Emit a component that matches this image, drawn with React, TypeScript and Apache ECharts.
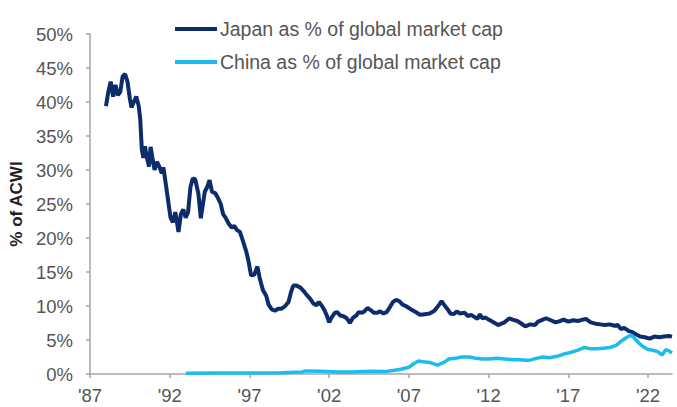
import React, { useEffect, useRef } from "react";
import * as echarts from "echarts";

const BASE_YEAR = 1987;
const xTickLabels = ["'87", "'92", "'97", "'02", "'07", "'12", "'17", "'22"];
const yTickValues = [0, 5, 10, 15, 20, 25, 30, 35, 40, 45, 50];

const japanYears = [
  1988.0, 1988.15, 1988.3, 1988.45, 1988.6, 1988.75, 1988.9, 1989.05, 1989.2, 1989.35,
  1989.5, 1989.6, 1989.75, 1989.9, 1990.05, 1990.15, 1990.25, 1990.35, 1990.45, 1990.55,
  1990.7, 1990.8, 1990.9, 1991.05, 1991.2, 1991.35, 1991.5, 1991.6, 1991.75, 1991.9,
  1992.05, 1992.2, 1992.35, 1992.55, 1992.7, 1992.85, 1993.0, 1993.15, 1993.3, 1993.45,
  1993.6, 1993.8, 1993.95, 1994.05, 1994.2, 1994.35, 1994.5, 1994.65, 1994.85, 1995.0,
  1995.2, 1995.35, 1995.5, 1995.7, 1995.9, 1996.05, 1996.2, 1996.4, 1996.6, 1996.8,
  1996.95, 1997.1, 1997.3, 1997.5, 1997.65, 1997.85, 1998.05, 1998.2, 1998.4, 1998.6,
  1998.8, 1999.0, 1999.2, 1999.45, 1999.6, 1999.75, 1999.95, 2000.2, 2000.4, 2000.6,
  2000.8, 2001.0, 2001.2, 2001.35, 2001.55, 2001.7, 2001.85, 2002.0, 2002.15, 2002.35,
  2002.5, 2002.7, 2002.9, 2003.1, 2003.3, 2003.5, 2003.7, 2003.85, 2004.05, 2004.2,
  2004.4, 2004.6, 2004.8, 2005.0, 2005.2, 2005.4, 2005.6, 2005.8, 2006.0, 2006.2,
  2006.4, 2006.6, 2006.8, 2007.0, 2007.2, 2007.5, 2007.7, 2008.0, 2008.3, 2008.6,
  2008.9, 2009.05, 2009.2, 2009.4, 2009.6, 2009.8, 2010.0, 2010.2, 2010.5, 2010.7,
  2010.9, 2011.1, 2011.3, 2011.45, 2011.6, 2011.8, 2012.0, 2012.3, 2012.6, 2012.8,
  2013.0, 2013.3, 2013.5, 2013.8, 2014.0, 2014.3, 2014.6, 2014.9, 2015.1, 2015.4,
  2015.6, 2015.9, 2016.2, 2016.5, 2016.7, 2017.0, 2017.3, 2017.6, 2017.9, 2018.1,
  2018.4, 2018.7, 2019.0, 2019.3, 2019.6, 2019.9, 2020.1, 2020.3, 2020.5, 2020.8,
  2021.0, 2021.2, 2021.5, 2021.8, 2022.1, 2022.4, 2022.7, 2023.0, 2023.3, 2023.5,
];
const japanShare = [
  39.4, 41.5, 43.0, 40.8, 42.5, 41.0, 41.5, 43.8, 44.1, 43.0,
  40.5, 39.2, 40.0, 40.8, 39.5, 37.5, 33.0, 31.8, 33.5, 32.0,
  30.5, 33.4, 32.0, 30.0, 31.2, 30.5, 29.5, 30.4, 28.0, 25.5,
  23.0, 22.3, 23.8, 20.9, 23.5, 24.2, 23.0, 23.8, 27.5, 28.8,
  28.6, 26.5, 22.9, 24.5, 26.8, 27.5, 28.5, 26.8, 26.6, 26.0,
  25.0, 23.5, 23.0, 22.1, 21.5, 21.8, 21.2, 20.9, 19.5, 18.0,
  16.5, 14.5, 14.6, 15.8, 14.0, 12.3, 11.5, 10.2, 9.5, 9.3,
  9.6, 9.6, 9.9, 10.6, 12.0, 13.0, 13.0, 12.7, 12.2, 11.6,
  11.1, 10.4, 10.1, 10.6, 10.0, 9.4, 8.6, 7.6, 8.3, 9.0,
  9.1, 8.6, 8.5, 8.2, 7.5, 8.3, 8.6, 9.1, 9.0, 9.2,
  9.7, 9.4, 9.0, 9.0, 9.2, 8.9, 9.1, 9.8, 10.6, 10.9,
  10.7, 10.2, 10.0, 9.7, 9.4, 9.0, 8.7, 8.8, 8.9, 9.3,
  10.2, 10.7, 10.2, 9.6, 8.9, 8.8, 9.2, 8.9, 9.0, 8.5,
  8.7, 8.4, 8.1, 8.8, 8.2, 8.3, 8.0, 7.6, 7.2, 7.4,
  7.6, 8.2, 8.0, 7.8, 7.5, 7.0, 7.3, 7.2, 7.7, 8.0,
  8.2, 7.9, 7.6, 7.8, 8.0, 7.7, 7.9, 7.8, 8.0, 8.1,
  7.6, 7.4, 7.3, 7.2, 7.3, 7.1, 7.2, 6.6, 6.8, 6.3,
  6.2, 5.9, 5.5, 5.4, 5.2, 5.5, 5.4, 5.5, 5.6, 5.5,
];

const chinaYears = [
  1993.0, 1995.0, 1997.0, 1999.0, 2000.3, 2000.5, 2001.5, 2002.5, 2003.5, 2004.5,
  2005.5, 2006.0, 2006.5, 2007.0, 2007.3, 2007.6, 2007.9, 2008.3, 2008.8, 2009.2,
  2009.5, 2009.9, 2010.3, 2010.8, 2011.2, 2011.6, 2012.0, 2012.5, 2013.0, 2013.5,
  2014.0, 2014.5, 2015.0, 2015.4, 2015.8, 2016.3, 2016.8, 2017.2, 2017.6, 2018.0,
  2018.4, 2018.8, 2019.2, 2019.6, 2020.0, 2020.3, 2020.6, 2020.9, 2021.1, 2021.4,
  2021.7, 2022.0, 2022.3, 2022.6, 2022.9, 2023.1, 2023.3, 2023.5,
];
const chinaShare = [
  0.1, 0.15, 0.15, 0.2, 0.3, 0.45, 0.4, 0.3, 0.3, 0.4,
  0.35, 0.5, 0.7, 1.0, 1.5, 1.9, 1.8, 1.7, 1.3, 1.7,
  2.2, 2.3, 2.5, 2.5, 2.3, 2.2, 2.2, 2.3, 2.2, 2.1,
  2.1, 2.0, 2.3, 2.5, 2.4, 2.6, 3.0, 3.2, 3.5, 3.9,
  3.7, 3.7, 3.8, 3.9, 4.2, 4.8, 5.3, 5.7, 5.4, 4.6,
  4.0, 3.6, 3.5, 3.3, 2.8, 3.6, 3.4, 3.1,
];

const JAPAN_COLOR = "#0c2c6c";
const CHINA_COLOR = "#1cbcf0";
const TEXT_COLOR = "#555555";
const AXIS_COLOR = "#a6a6a6";
const FONT = "'Liberation Sans', Arial, sans-serif";

export default function App() {
  const ref = useRef<HTMLDivElement>(null);
  useEffect(() => {
    if (!ref.current) return;
    const chart = echarts.init(ref.current, null, { renderer: "svg" });
    const tickOffsets = xTickLabels.map((_, i) => i * 5);
    chart.setOption({
      animation: false,
      backgroundColor: "#ffffff",
      textStyle: { fontFamily: FONT },
      grid: { left: 90, top: 34, right: 5, bottom: 33, containLabel: false },
      legend: {
        orient: "vertical",
        left: 175,
        top: 19,
        padding: 0,
        itemGap: 13,
        itemWidth: 42,
        itemHeight: 4,
        icon: "rect",
        textStyle: { color: TEXT_COLOR, fontSize: 19.5, fontFamily: FONT, lineHeight: 20, padding: [0, 0, 0, -2] },
        data: [
          { name: "Japan as % of global market cap", itemStyle: { color: JAPAN_COLOR } },
          { name: "China as % of global market cap", itemStyle: { color: CHINA_COLOR } },
        ],
      },
      xAxis: {
        type: "value",
        min: 0,
        max: 36.5,
        interval: 5,
        splitLine: { show: false },
        axisLine: { show: true, lineStyle: { color: AXIS_COLOR, width: 1.5 } },
        axisTick: { show: true, length: 4, customValues: tickOffsets, lineStyle: { color: AXIS_COLOR, width: 1.5 } },
        axisLabel: {
          customValues: tickOffsets,
          color: TEXT_COLOR,
          fontSize: 18.5,
          fontFamily: FONT,
          margin: 12,
          formatter: (v: number) => xTickLabels[Math.round(v / 5)] ?? "",
        },
      },
      yAxis: {
        type: "value",
        min: 0,
        max: 50,
        interval: 5,
        name: "% of ACWI",
        nameLocation: "middle",
        nameGap: 64,
        nameRotate: 90,
        nameTextStyle: { color: "#222222", fontWeight: "bold", fontSize: 17, fontFamily: FONT },
        splitLine: { show: false },
        axisLine: { show: true, lineStyle: { color: AXIS_COLOR, width: 1.5 } },
        axisTick: { show: true, length: 4, lineStyle: { color: AXIS_COLOR, width: 1.5 } },
        axisLabel: {
          color: TEXT_COLOR,
          fontSize: 18.5,
          fontFamily: FONT,
          margin: 17,
          formatter: (v: number) => (yTickValues.includes(v) ? `${v}%` : ""),
        },
      },
      series: [
        {
          name: "Japan as % of global market cap",
          type: "line",
          showSymbol: false,
          symbol: "none",
          lineStyle: { color: JAPAN_COLOR, width: 4 },
          itemStyle: { color: JAPAN_COLOR },
          data: japanYears.map((y, i) => [y - BASE_YEAR, japanShare[i]]),
          z: 3,
        },
        {
          name: "China as % of global market cap",
          type: "line",
          showSymbol: false,
          symbol: "none",
          lineStyle: { color: CHINA_COLOR, width: 3.5 },
          itemStyle: { color: CHINA_COLOR },
          data: chinaYears.map((y, i) => [y - BASE_YEAR, chinaShare[i]]),
          z: 2,
        },
      ],
    });
    return () => chart.dispose();
  }, []);
  return (
    <div
      ref={ref}
      style={{ position: "fixed", left: 0, top: 0, width: 677, height: 407, background: "#fff" }}
    />
  );
}
